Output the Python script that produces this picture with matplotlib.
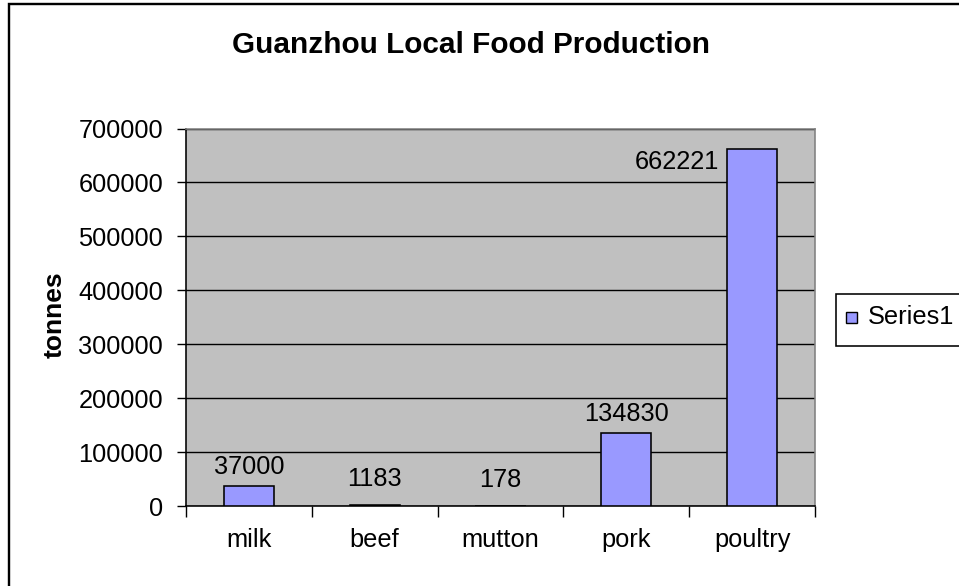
import matplotlib.pyplot as plt
from matplotlib.patches import Rectangle
from matplotlib.ticker import FixedLocator, NullFormatter

# ----------------------------------------------------------
# data
# ----------------------------------------------------------
categories = ["milk", "beef", "mutton", "pork", "poultry"]
production = [37000, 1183, 178, 134830, 662221]
series_name = "Series1"

# ----------------------------------------------------------
# style
# ----------------------------------------------------------
W, H, DPI = 959, 586, 100
PX = 72.0 / DPI            # points per pixel
FONT = "Liberation Sans"
BAR_COLOR = "#9999FF"
PLOT_BG = "#C0C0C0"
FS = 18.3

plt.rcParams["font.family"] = FONT

fig = plt.figure(figsize=(W / DPI, H / DPI), dpi=DPI)


def fig_rect(x0, y0, x1, y1, **kw):
    # rectangle given in pixel coords from the top-left corner
    r = Rectangle((x0 / W, 1 - y1 / H), (x1 - x0) / W, (y1 - y0) / H,
                  transform=fig.transFigure, **kw)
    fig.patches.append(r)
    return r


# outer chart frame (runs off the right and bottom edges)
fig_rect(8.5, 3.5, W + 20, H + 20, fill=False, edgecolor="black",
         linewidth=2.4 * PX)

# plot area in pixels
left, right, top, bottom = 186, 815, 128.5, 506
ax = fig.add_axes([left / W, 1 - bottom / H, (right - left) / W, (bottom - top) / H])
ax.set_facecolor(PLOT_BG)

x = list(range(len(categories)))
bars = ax.bar(x, production, width=0.4, color=BAR_COLOR, edgecolor="black",
              linewidth=1.6 * PX, zorder=3, label=series_name)

ax.set_xlim(-0.5, len(categories) - 0.5)
ax.set_ylim(0, 700000)
ax.set_yticks(range(0, 700001, 100000))
ax.set_yticklabels([str(v) for v in range(0, 700001, 100000)], fontsize=FS)
ax.yaxis.grid(True, color="black", linewidth=1.4 * PX, zorder=1)
ax.set_axisbelow(True)

# category labels centred, tick marks on the category boundaries
ax.set_xticks(x)
ax.set_xticklabels(categories, fontsize=FS)
ax.xaxis.set_minor_locator(FixedLocator([i - 0.5 for i in range(len(categories) + 1)]))
ax.xaxis.set_minor_formatter(NullFormatter())
ax.tick_params(axis="x", which="major", length=0, pad=15.5)
ax.tick_params(axis="x", which="minor", length=11 * PX, width=1.4 * PX, direction="out")
ax.tick_params(axis="y", length=9 * PX, width=1.4 * PX, pad=10, direction="out")

for side in ("left", "bottom"):
    ax.spines[side].set_color("black")
    ax.spines[side].set_linewidth(1.6 * PX)
for side in ("top", "right"):
    ax.spines[side].set_color("#808080")
    ax.spines[side].set_linewidth(1.6 * PX)

# value labels
for b, v in zip(bars, production):
    cx = b.get_x() + b.get_width() / 2
    if v > 600000:
        # tall bar: label sits to its left, just below the top
        ax.annotate(str(v), (b.get_x(), v), xytext=(-8 * PX, -13 * PX),
                    textcoords="offset points", ha="right", va="center",
                    fontsize=FS, zorder=4)
    else:
        dy = 12 if v > 10000 else 19
        ax.annotate(str(v), (cx, v), xytext=(0, dy * PX),
                    textcoords="offset points", ha="center", va="baseline",
                    fontsize=FS, zorder=4)

fig.text(471 / W, 1 - 45 / H, "Guanzhou Local Food Production",
         ha="center", va="center", fontsize=21.4, fontweight="bold")
fig.text(55 / W, 1 - 315 / H, "tonnes", rotation=90,
         ha="center", va="center", fontsize=19, fontweight="bold")

# legend box, drawn by hand so it can run past the right edge
fig_rect(835.5, 294, W + 10, 346, facecolor="white", edgecolor="black",
         linewidth=1.6 * PX)
fig_rect(846, 312, 857, 322.5, facecolor=BAR_COLOR, edgecolor="black",
         linewidth=1.4 * PX)
fig.text(868 / W, 1 - 317.5 / H, series_name, ha="left", va="center",
         fontsize=FS)

fig.savefig("out.png", dpi=DPI)
